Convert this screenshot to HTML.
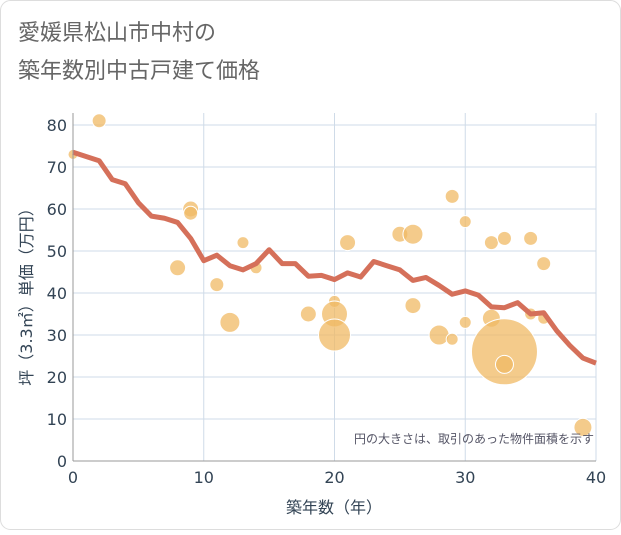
<!DOCTYPE html>
<html><head><meta charset="utf-8"><style>
body{margin:0;background:#fff;}
svg text{font-family:"DejaVu Sans","Noto Sans CJK JP",sans-serif;}
</style></head><body>
<svg id="c" width="621" height="530" viewBox="0 0 621 530">
<rect x="0.5" y="0.5" width="620" height="529" rx="10" fill="#fff" stroke="#ddd"/>
<text x="18" y="40" font-size="22" fill="#666">愛媛県松山市中村の</text>
<text x="18" y="78" font-size="22" fill="#666">築年数別中古戸建て価格</text>
<g id="grid"></g><g id="bub"></g><g id="ln"></g><g id="ax"></g>
<text x="594" y="443" font-size="12" fill="#556" text-anchor="end">円の大きさは、取引のあった物件面積を示す</text>
<text x="334" y="513" font-size="16" fill="#345" text-anchor="middle">築年数（年）</text>
<text transform="translate(32,293) rotate(-90)" font-size="16" fill="#345" text-anchor="middle">坪（3.3㎡）単価（万円）</text>
</svg>
<script>
const lineX=[0,1,2,3,4,5,6,7,8,9,10,11,12,13,14,15,16,17,18,19,20,21,22,23,24,25,26,27,28,29,30,31,32,33,34,35,36,37,38,39,40];
const lineY=[73.5,72.5,71.5,67,66,61.5,58.3,57.8,56.8,53,47.7,49,46.5,45.5,47,50.3,47,47,44,44.2,43.2,44.8,43.8,47.5,46.5,45.5,43,43.7,41.8,39.7,40.5,39.5,36.7,36.5,37.7,35,35.3,31,27.5,24.5,23.3];
const bubX=[0,2,8,9,9,11,12,13,14,18,20,20,20,21,25,26,26,28,29,29,30,30,32,32,33,33,33,35,35,36,36,39];
const bubY=[73,81,46,60,59,42,33,52,46,35,38,35,30,52,54,54,37,30,29,63,57,33,52,34,53,26,23,53,35,34,47,8];
const bubR=[5,7,8,8,7,7,10,6,6,8,6,13,16,8,8,10,8,10,6,7,6,6,7,9,7,33,9,7,6,6,7,9];
const xTicks=[0,10,20,30,40];
const yTicks=[0,10,20,30,40,50,60,70,80];
const NS="http://www.w3.org/2000/svg";
const X0=73,X1=596,Y0=461,Y1=125;
const sx=v=>X0+(X1-X0)*v/40, sy=v=>Y0-(Y0-Y1)*v/80;
function mk(p,t,a){const e=document.createElementNS(NS,t);for(const k in a)e.setAttribute(k,a[k]);document.getElementById(p).appendChild(e);return e;}
yTicks.forEach(v=>{const g=mk('grid','line',{x1:X0,x2:X1,y1:sy(v),y2:sy(v),stroke:'#cfdbe8'});

const t=mk('ax','text',{x:X0-6,y:sy(v)+6,'font-size':16,fill:'#345','text-anchor':'end'});t.textContent=v;
});
xTicks.forEach(v=>{const g=mk('grid','line',{x1:sx(v),x2:sx(v),y1:Y1-12,y2:Y0,stroke:'#cfdbe8'});

const t=mk('ax','text',{x:sx(v),y:Y0+22,'font-size':16,fill:'#345','text-anchor':'middle'});t.textContent=v;
});
const a1=mk('ax','line',{x1:X0,x2:X0,y1:Y1-12,y2:Y0,stroke:'#999'});
const a2=mk('ax','line',{x1:X0,x2:X1,y1:Y0,y2:Y0,stroke:'#999'});
bubX.forEach((v,i)=>{const c=mk('bub','circle',{cx:sx(v),cy:sy(bubY[i]),r:bubR[i],fill:'rgba(240,186,100,0.75)',stroke:'#fff','stroke-width':1});
});
const p=mk('ln','polyline',{points:lineX.map((v,i)=>sx(v)+','+sy(lineY[i])).join(' '),fill:'none',stroke:'#d5705a','stroke-width':5,'stroke-linejoin':'round'});

</script>
</body></html>
